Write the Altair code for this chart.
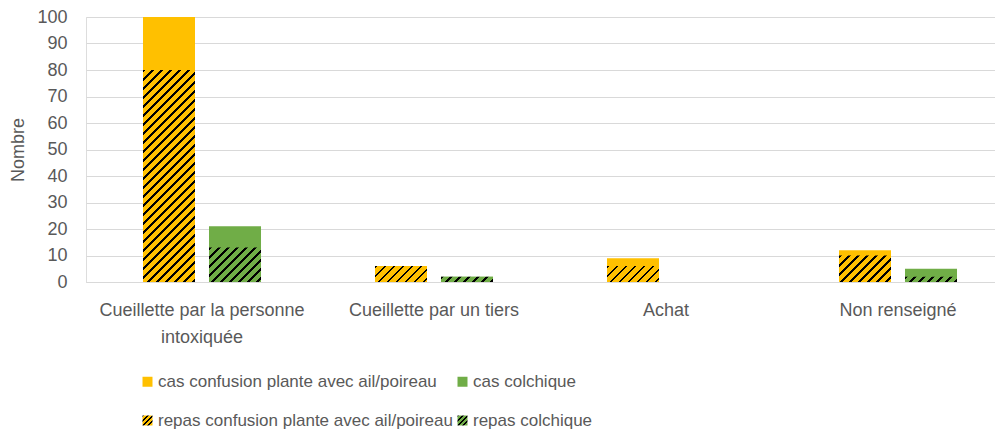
import altair as alt

# ---------------- data ----------------
categories = ["Cueillette par la personne intoxiquée", "Cueillette par un tiers", "Achat", "Non renseigné"]
groups = ["ail", "colchique"]
cas_ail = [100, 6, 9, 12]
repas_ail = [80, 6, 6, 10]
cas_colchique = [21, 2, 0, 5]
repas_colchique = [13, 2, 0, 2]
series = ["cas confusion plante avec ail/poireau", "cas colchique",
          "repas confusion plante avec ail/poireau", "repas colchique"]
label_lines = {"Cueillette par la personne intoxiquée": ["Cueillette par la personne", "intoxiquée"]}
y_ticks = list(range(0, 101, 10))

# ---------------- style ----------------
ORANGE = "#FFC000"
GREEN = "#70AD47"
GRID = "#D9D9D9"
TEXT = "#595959"
FONT = "Liberation Sans"
FS = 18
LEG_FS = 17

PLOT_W = 909
PLOT_H = 265
X_RANGE = 928
X_PAD_IN = 0.431
X_PAD_OUT = X_PAD_IN / 2
OFF_PAD_IN = 0.212
OFF_PAD_OUT = OFF_PAD_IN / 2
step = X_RANGE / (len(categories) - X_PAD_IN + 2 * X_PAD_OUT)
band = step * (1 - X_PAD_IN)
ostep = band / (len(groups) - OFF_PAD_IN + 2 * OFF_PAD_OUT)
BAR_W = ostep * (1 - OFF_PAD_IN)
PX_PER_UNIT = PLOT_H / 100.0


def hatch(color, w, h, period=9.0, dark=2.6):
    total = w + h
    m = (w * w + h * h) / total
    stops = []
    s = 0.0
    while s < total - 1e-9:
        a = round(s / total, 5)
        b = round(min((s + dark) / total, 1.0), 5)
        c = round(min((s + period) / total, 1.0), 5)
        stops += [{"offset": a, "color": "#000000"}, {"offset": b, "color": "#000000"},
                  {"offset": b, "color": color}, {"offset": c, "color": color}]
        s += period
    return {"gradient": "linear", "x1": 0, "y1": 0,
            "x2": round(w / m, 5), "y2": round(h / m, 5), "stops": stops}


def to_expr(g):
    stops = ",".join("{offset:%s,color:'%s'}" % (st["offset"], st["color"]) for st in g["stops"])
    return "{gradient:'linear',x1:%s,y1:%s,x2:%s,y2:%s,stops:[%s]}" % (
        g["x1"], g["y1"], g["x2"], g["y2"], stops)


colors = {"ail": ORANGE, "colchique": GREEN}

cas_rows = []
rep_rows = []
for i, cat in enumerate(categories):
    for g, cv, rv, sname in (("ail", cas_ail[i], repas_ail[i], series[0]),
                             ("colchique", cas_colchique[i], repas_colchique[i], series[1])):
        if cv > 0:
            cas_rows.append({"categorie": cat, "groupe": g, "valeur": cv, "serie": sname})
        if rv > 0:
            rep_rows.append({"categorie": cat, "groupe": g, "valeur": rv,
                             "grad": hatch(colors[g], BAR_W, rv * PX_PER_UNIT)})

legend_range = [ORANGE, GREEN,
                {"expr": to_expr(hatch(ORANGE, 10, 10, period=5.0, dark=1.8))},
                {"expr": to_expr(hatch(GREEN, 10, 10, period=5.0, dark=1.8))}]

# label expression for wrapped category labels
lab_expr = "datum.label"
for k, v in label_lines.items():
    arr = "[" + ",".join("'%s'" % t for t in v) + "]"
    lab_expr = "datum.label == '%s' ? %s : %s" % (k, arr, lab_expr)

x_enc = alt.X("categorie:N", sort=categories, title=None,
              scale=alt.Scale(domain=categories, range=[0, X_RANGE],
                              paddingInner=X_PAD_IN, paddingOuter=X_PAD_OUT),
              axis=alt.Axis(labelAngle=0, labelExpr=lab_expr, labelFont=FONT, labelFontSize=FS,
                            labelColor=TEXT, labelPadding=19, labelLineHeight=27, labelLimit=400,
                            ticks=False, domainColor=GRID, domainWidth=1, grid=False))
xo_enc = alt.XOffset("groupe:N", sort=groups,
                     scale=alt.Scale(domain=groups, paddingInner=OFF_PAD_IN, paddingOuter=OFF_PAD_OUT))
y_enc = alt.Y("valeur:Q", title="Nombre",
              scale=alt.Scale(domain=[0, 100], nice=False),
              axis=alt.Axis(values=y_ticks, grid=True, gridColor=GRID, gridWidth=1, domain=False,
                            ticks=False, labelPadding=19, labelFont=FONT, labelFontSize=FS,
                            labelColor=TEXT, titleFont=FONT, titleFontSize=FS, titleColor=TEXT,
                            titleFontWeight="normal", titlePadding=9))

cas_layer = alt.Chart(alt.Data(values=cas_rows)).mark_bar().encode(
    x=x_enc, xOffset=xo_enc, y=y_enc,
    color=alt.Color("serie:N", sort=series,
                    scale=alt.Scale(domain=series, range=legend_range),
                    legend=alt.Legend(title=None, orient="none", legendX=53, legendY=356,
                                      direction="horizontal", columns=2,
                                      symbolType="square", symbolSize=100,
                                      symbolStrokeWidth=0, labelFont=FONT, labelFontSize=LEG_FS,
                                      labelColor=TEXT, rowPadding=21, columnPadding=1,
                                      labelOffset=2, labelLimit=500))
)

rep_layer = alt.Chart(alt.Data(values=rep_rows)).mark_bar().encode(
    x=x_enc, xOffset=xo_enc, y=y_enc,
    fill=alt.Fill("grad:N", scale=None, legend=None)
)

chart = alt.layer(cas_layer, rep_layer).properties(
    width=PLOT_W, height=PLOT_H,
    autosize=alt.AutoSizeParams(type="none"),
    padding={"left": 78, "top": 9, "right": 0, "bottom": 421 - 9 - PLOT_H},
).configure_view(stroke=None).configure(background="white")

chart.save("out.html", embed_options={"renderer": "svg", "actions": False})
